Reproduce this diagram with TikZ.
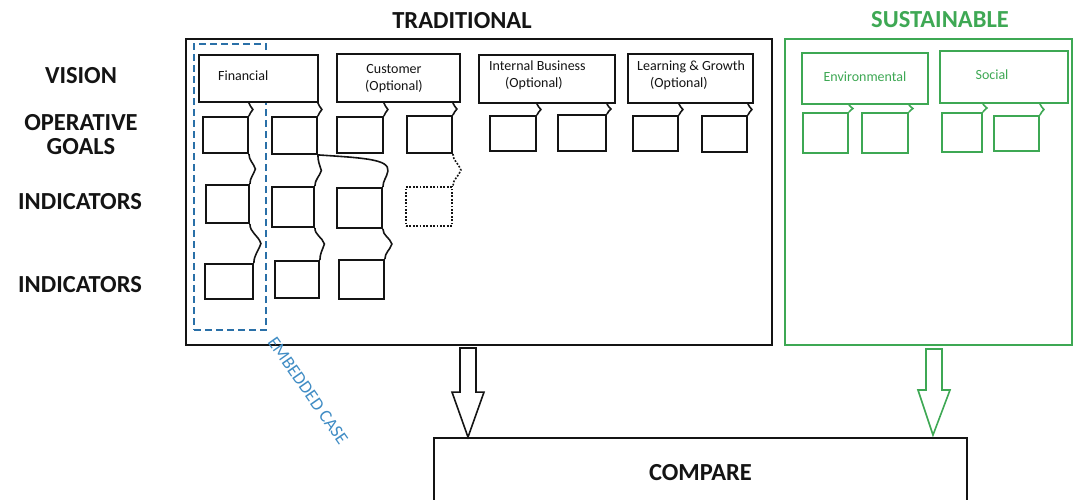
\documentclass[tikz,border=0pt]{standalone}
\usepackage{fontspec}
\setmainfont{Carlito}
\usetikzlibrary{calc}

\definecolor{ink}{RGB}{20,20,20}
\definecolor{leaf}{RGB}{62,168,84}
\definecolor{casecol}{RGB}{42,112,168}
\definecolor{casetext}{RGB}{64,140,196}

% rectangle node from its pixel corners (x1,y1) (x2,y2), y measured downwards
\newcommand\bx[6][box]{%
  \node[#1, minimum width={#5-#3}, minimum height={#6-#4}] (#2)
    at ({(#3+#5)/2},{-(#4+#6)/2}) {};}

% brace-like link from an upper point to a lower point, bulging right
\newcommand\lnk[4][link]{%
  \coordinate (lkA) at (#2);
  \coordinate (lkB) at (#3);
  \draw[#1] (lkA) to[out=-90,in=108] ($(lkA)!0.5!(lkB)+(#4,0)$)
                  to[out=-108,in=90] (lkB);}

% hollow block arrow from a top point down to a tip
\newcommand\blockarrow[3]{%
  \draw[#1] let \p1=(#2), \p2=(#3) in
    (\x1-8pt,\y1) -- (\x1+8pt,\y1) -- (\x1+8pt,\y2+45pt) -- (\x1+16pt,\y2+45pt)
    -- (\x2,\y2) -- (\x1-16pt,\y2+45pt) -- (\x1-8pt,\y2+45pt) -- cycle;}

\begin{document}
\begin{tikzpicture}[x=1pt,y=1pt,
  box/.style={draw=ink, fill=white, line width=1.8pt, inner sep=0pt},
  gbox/.style={box, draw=leaf},
  frame/.style={box, fill=none},
  gframe/.style={frame, draw=leaf},
  dotbox/.style={box, dash pattern=on 1.8pt off 1.6pt},
  casebox/.style={draw=casecol, line width=1.8pt, inner sep=0pt, dash pattern=on 7pt off 4pt},
  link/.style={draw=ink, line width=1.6pt},
  glink/.style={link, draw=leaf},
  dotlink/.style={link, dash pattern=on 1.8pt off 1.6pt},
  head/.style={font=\bfseries\fontsize{24.5}{23.5}\selectfont, text=ink, align=center, inner sep=0pt},
  lab/.style={font=\fontsize{14}{17}\selectfont, text=ink, inner sep=0pt, align=left},
  glab/.style={lab, text=leaf},
  arrowshape/.style={draw=ink, line width=1.6pt, line join=miter},
  garrowshape/.style={arrowshape, draw=leaf},
]
\useasboundingbox (0,0) rectangle (1074,-499);

% row headings
\node[head] (hv)  at (81,-76)    {VISION};
\node[head] (hg)  at (81,-134.5) {OPERATIVE\\GOALS};
\node[head] (hi1) at (80,-202)   {INDICATORS};
\node[head] (hi2) at (80,-285)   {INDICATORS};

% frames and titles
\bx[frame]{trad}{186}{39}{772}{345}
\bx[gframe]{sust}{785}{39}{1072}{345}
\node[head] (ht) at (462,-21) {TRADITIONAL};
\node[head, text=leaf] (hs) at (940,-20) {SUSTAINABLE};

% embedded case (drawn first, boxes cover it)
\bx[casebox]{case}{194}{44}{266}{330}
\node[font=\fontsize{18}{18}\selectfont, text=casetext, rotate=-55, inner sep=0pt]
  (caseT) at (308,-391) {EMBEDDED CASE};

% perspectives
\bx{fin}{199}{55}{318}{102}
\bx{cus}{337}{54}{460}{102}
\bx{ibz}{479}{55}{615}{103}
\bx{lgr}{628}{54}{753}{103}
\bx[gbox]{env}{802}{53}{928}{104}
\bx[gbox]{soc}{940}{51}{1068}{103}

\node[lab, anchor=west] (finT) at (218,-76) {Financial};
\node[lab, align=center] (cusT) at (394,-78.5) {Customer\\(Optional)};
\node[lab, anchor=west] (ibzT) at (489,-75.5) {Internal Business\\\hspace*{16pt}(Optional)};
\node[lab, anchor=west] (lgrT) at (637,-75.5) {Learning \& Growth\\\hspace*{13pt}(Optional)};
\node[glab] (envT) at (865,-77) {Environmental};
\node[glab] (socT) at (992,-75) {Social};

% operative goals
\bx{g1}{203}{117}{248}{153}
\bx{g2}{272}{117}{317}{154}
\bx{g3}{337}{117}{383}{153}
\bx{g4}{407}{116}{452}{153}
\bx{g5}{490}{116}{536}{151}
\bx{g6}{558}{115}{606}{151}
\bx{g7}{633}{116}{678}{151}
\bx{g8}{702}{116}{747}{152}
\bx[gbox]{e1}{803}{113}{848}{153}
\bx[gbox]{e2}{862}{113}{908}{153}
\bx[gbox]{s1}{942}{113}{982}{152}
\bx[gbox]{s2}{994}{116}{1039}{151}

% indicators
\bx{i1}{206}{185}{249}{223}
\bx{i2}{272}{187}{314}{227}
\bx{i3}{337}{188}{382}{228}
\bx[dotbox]{i4}{406}{187}{452}{226}
\bx{j1}{205}{264}{253}{299}
\bx{j2}{275}{261}{319}{298}
\bx{j3}{339}{260}{384}{299}

% perspective -> goal links
\lnk{g1.north east |- fin.south}{g1.north east}{4}
\lnk{g2.north east |- fin.south}{g2.north east}{4}
\lnk{g3.north east |- cus.south}{g3.north east}{4}
\lnk{g4.north east |- cus.south}{g4.north east}{4}
\lnk{g5.north east |- ibz.south}{g5.north east}{4}
\lnk{g6.north east |- ibz.south}{g6.north east}{4}
\lnk{g7.north east |- lgr.south}{g7.north east}{4}
\lnk{g8.north east |- lgr.south}{g8.north east}{4}
\lnk[glink]{e1.north east |- env.south}{e1.north east}{4}
\lnk[glink]{e2.north east |- env.south}{e2.north east}{4}
\lnk[glink]{s1.north east |- soc.south}{s1.north east}{4}
\lnk[glink]{s2.north east |- soc.south}{s2.north east}{4}

% goal -> indicator links
\lnk{g1.south east}{i1.north east}{6}
\lnk{g2.south east}{i2.north east}{5}
\draw[link] (g2.south east) .. controls +(45,-3) and +(2,12) .. ($(i3.north east)+(5,16)$)
  to[out=-100,in=90] (i3.north east);
\lnk[dotlink]{g4.south east}{i4.north east}{8}

% indicator -> indicator links
\lnk{i1.south east}{j1.north east}{9}
\lnk{i2.south east}{j2.north east}{7}
\lnk{i3.south east}{j3.north east}{8}

% comparison
\node[box, minimum width=533, minimum height=70,
      font=\bfseries\fontsize{24.5}{24.5}\selectfont, text=ink] (cmp) at (700.5,-473) {COMPARE};

\coordinate (ta) at (468,-348);
\coordinate (tb) at (ta |- cmp.north);
\coordinate (ga) at (934,-349);
\coordinate (gb) at (933,-435);
\blockarrow{arrowshape}{ta}{tb}
\blockarrow{garrowshape}{ga}{gb}
\end{tikzpicture}
\end{document}
